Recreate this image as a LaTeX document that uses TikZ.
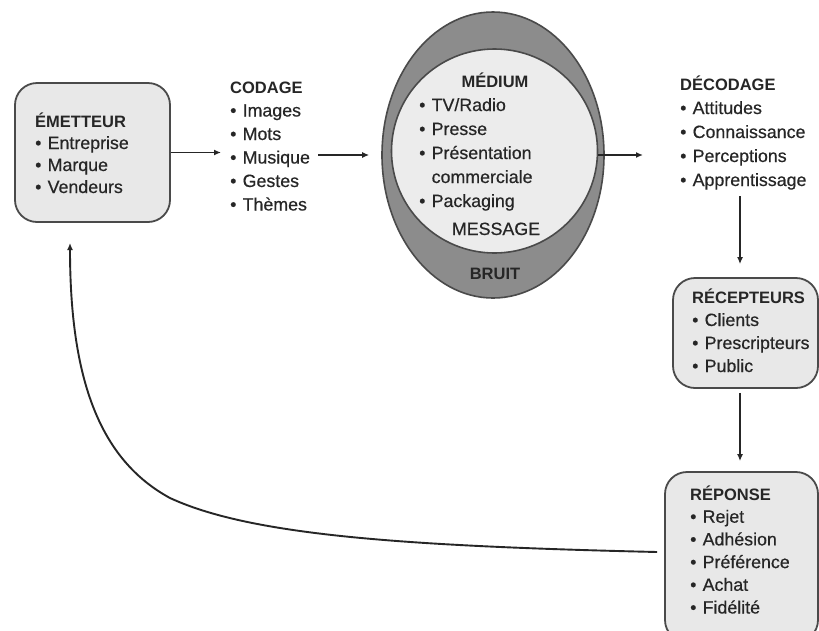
\documentclass[tikz,border=0pt]{standalone}
\usepackage{fontspec}
\setmainfont{Liberation Sans}[UprightFeatures={FakeBold=0.5}]
\usetikzlibrary{arrows.meta,shapes.geometric}

\definecolor{boxfill}{HTML}{E8E8E8}
\definecolor{boxline}{HTML}{4A4A4A}
\definecolor{ringfill}{HTML}{8C8C8C}
\definecolor{corefill}{HTML}{ECECEC}
\definecolor{ink}{HTML}{262626}

% heading and bullet helpers
\newcommand\hd[1]{{\bfseries\fontsize{16.5}{23}\selectfont #1}}
\newcommand\bl{\textbullet\hspace{0.35em}}

\tikzset{
  panel/.style={draw=boxline, line width=1.8pt, fill=boxfill, rounded corners=22pt, inner sep=0pt},
  txt/.style={anchor=base west, inner sep=0pt, text=ink},
  arr/.style={draw=ink, line width=1.9pt, -{Latex[length=7pt,width=6pt]}},
  oval/.style={ellipse, draw=boxline, line width=1.6pt, inner sep=0pt}
}

\begin{document}
\begin{tikzpicture}[x=1pt, y=-1pt]
  \useasboundingbox (0,0) rectangle (819,630);
  \clip (0,0) rectangle (819,630);
  \fill[white] (0,0) rectangle (819,630);

  % sender
  \node[panel, minimum width=155pt, minimum height=139pt] (emetteur) at (92.5,152.5) {};
  \node[txt, font=\fontsize{17.8}{22}\selectfont] (emetteurtxt) at (35,127)
    {\begin{tabular}[t]{@{}l@{}}\hd{ÉMETTEUR}\\ \bl Entreprise\\ \bl Marque\\ \bl Vendeurs\end{tabular}};

  % encoding
  \node[txt, font=\fontsize{17.8}{23.5}\selectfont] (codage) at (230,93)
    {\begin{tabular}[t]{@{}l@{}}\hd{CODAGE}\\ \bl Images\\ \bl Mots\\ \bl Musique\\ \bl Gestes\\ \bl Thèmes\end{tabular}};

  % medium: noise ring around the message
  \node[oval, fill=ringfill, minimum width=222pt, minimum height=286pt] (bruit) at (493,155) {};
  \node[oval, fill=corefill, minimum width=206pt, minimum height=204pt] (message) at (494.5,151) {};
  \node[anchor=base, inner sep=0pt, text=ink] (mediumtitle) at (495,87) {\hd{MÉDIUM}};
  \node[txt, font=\fontsize{17.8}{24}\selectfont] (mediumlist) at (419,111)
    {\begin{tabular}[t]{@{}l@{}}\bl TV/Radio\\ \bl Presse\\ \bl Présentation\\ \phantom{\bl}commerciale\\ \bl Packaging\end{tabular}};
  \node[anchor=base, inner sep=0pt, text=ink, font=\fontsize{17.8}{20}\selectfont] (messagetxt) at (496,235) {MESSAGE};
  \node[anchor=base, inner sep=0pt, text=ink] (bruittxt) at (495,279) {\hd{BRUIT}};

  % decoding
  \node[txt, font=\fontsize{17.8}{24}\selectfont] (decodage) at (680,90)
    {\begin{tabular}[t]{@{}l@{}}\hd{DÉCODAGE}\\ \bl Attitudes\\ \bl Connaissance\\ \bl Perceptions\\ \bl Apprentissage\end{tabular}};

  % receivers
  \node[panel, minimum width=145pt, minimum height=110pt] (recepteurs) at (745.5,333) {};
  \node[txt, font=\fontsize{17.8}{23}\selectfont] (recepteurstxt) at (692,303)
    {\begin{tabular}[t]{@{}l@{}}\hd{RÉCEPTEURS}\\ \bl Clients\\ \bl Prescripteurs\\ \bl Public\end{tabular}};

  % response
  \node[panel, minimum width=153pt, minimum height=170pt] (reponse) at (741.5,557) {};
  \node[txt, font=\fontsize{17.8}{22.7}\selectfont] (reponsetxt) at (690,500)
    {\begin{tabular}[t]{@{}l@{}}\hd{RÉPONSE}\\ \bl Rejet\\ \bl Adhésion\\ \bl Préférence\\ \bl Achat\\ \bl Fidélité\end{tabular}};

  % connectors
  \coordinate (colx) at (740,0);
  \coordinate (fbtip) at (70,243);
  \coordinate (rowy) at (0,155);
  \draw[arr, shorten >=9pt] (emetteur.east) -- (codage.west |- emetteur.east);
  \draw[arr, shorten <=8pt, shorten >=12pt] (codage.east |- bruit.west) -- (bruit.west);
  \draw[arr, shorten >=37pt] (message.east |- rowy) -- (decodage.west |- rowy);
  \draw[arr, shorten <=3pt, shorten >=13pt] (colx |- decodage.south) -- (colx |- recepteurs.north);
  \draw[arr, shorten <=4pt, shorten >=10pt] (colx |- recepteurs.south) -- (colx |- reponse.north);
  \draw[arr] ([shift={(-7,-5)}]reponse.west) .. controls (400,546) and (250,535) .. (170,498)
    .. controls (100,460) and (70,380) .. (fbtip);
\end{tikzpicture}
\end{document}
